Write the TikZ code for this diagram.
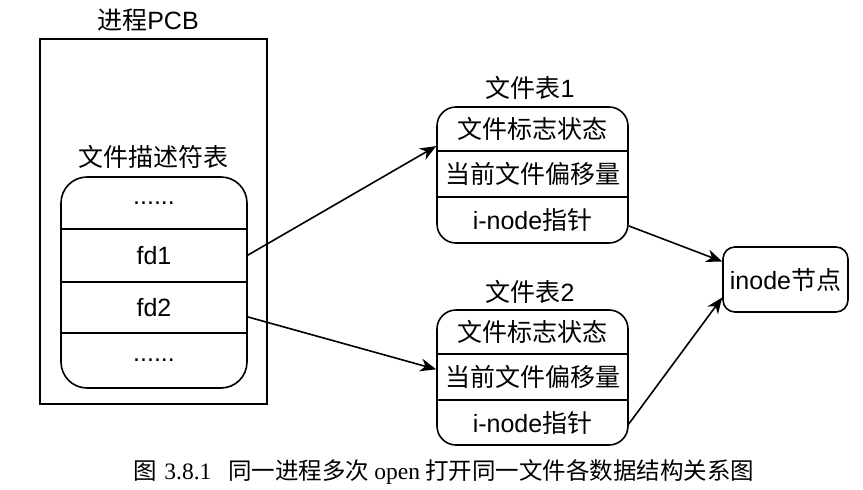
\documentclass[tikz,border=0pt]{standalone}
\usepackage{fontspec}
\setmainfont{Liberation Sans}
\newfontfamily\cjk{Noto Sans CJK SC}
\newfontfamily\capserif{Liberation Serif}
\usetikzlibrary{arrows.meta,calc}

\tikzset{
  box/.style={draw, line width=1.6pt, inner sep=0pt},
  rowcell/.style={inner sep=0pt, minimum width=#1, font=\fontsize{25}{28}\selectfont},
  label/.style={inner sep=0pt, font=\fontsize{25}{28}\selectfont},
  divider/.style={line width=1.6pt},
  link/.style={line width=1.6pt, -{Stealth[length=16pt,width=13pt,inset=5pt]}},
}

\begin{document}
\begin{tikzpicture}[x=1pt,y=-1pt]
\useasboundingbox (0,0) rectangle (863,490);

% process control block
\node[box, minimum width=227pt, minimum height=365pt] (pcb) at (153.5,221.5) {};
\node[label] (pcbtitle) at (148,20) {{\cjk 进程}PCB};

% file descriptor table
\node[label] (fdtitle) at (153,157) {\cjk 文件描述符表};
\node[box, rounded corners=26pt, minimum width=186pt, minimum height=211pt] (fdt) at (154,282.5) {};
\node[rowcell=186pt, minimum height=52pt] (fd0) at (154,203) {\raisebox{-3pt}{......}};
\node[rowcell=186pt, minimum height=53pt] (fd1) at (154,255.5) {fd1};
\node[rowcell=186pt, minimum height=51pt] (fd2) at (154,307.5) {fd2};
\node[rowcell=186pt, minimum height=55pt] (fd3) at (154,360.5) {......};
\draw[divider] (fd0.south west) -- (fd0.south east);
\draw[divider] (fd1.south west) -- (fd1.south east);
\draw[divider] (fd2.south west) -- (fd2.south east);

% file table 1
\node[label] (t1title) at (530,88) {{\cjk 文件表}1};
\node[box, rounded corners=19pt, minimum width=191pt, minimum height=136pt] (t1) at (532.5,175) {};
\node[rowcell=191pt, minimum height=44pt] (t1a) at (532.5,129) {\cjk 文件标志状态};
\node[rowcell=191pt, minimum height=46pt] (t1b) at (532.5,174) {\cjk 当前文件偏移量};
\node[rowcell=191pt, minimum height=46pt] (t1c) at (532.5,220) {i-node{\cjk 指针}};
\draw[divider] (t1a.south west) -- (t1a.south east);
\draw[divider] (t1b.south west) -- (t1b.south east);

% file table 2
\node[label] (t2title) at (530,292) {{\cjk 文件表}2};
\node[box, rounded corners=19pt, minimum width=191pt, minimum height=135pt] (t2) at (532.5,377.5) {};
\node[rowcell=191pt, minimum height=44pt] (t2a) at (532.5,332) {\cjk 文件标志状态};
\node[rowcell=191pt, minimum height=46pt] (t2b) at (532.5,377) {\cjk 当前文件偏移量};
\node[rowcell=191pt, minimum height=45pt] (t2c) at (532.5,422.5) {i-node{\cjk 指针}};
\draw[divider] (t2a.south west) -- (t2a.south east);
\draw[divider] (t2b.south west) -- (t2b.south east);

% inode
\node[box, rounded corners=12pt, minimum width=125pt, minimum height=65pt, font=\fontsize{25}{28}\selectfont] (inode) at (785.5,279.5) {inode{\cjk 节点}};

% connectors
\draw[link] (fd1.east) -- ($(t1.north west)!0.29!(t1.south west)$);
\draw[link] ($(fd2.north east)!0.68!(fd2.south east)$) -- ($(t2.north west)!0.44!(t2.south west)$);
\draw[link] ($(t1.north east)!0.87!(t1.south east)$) -- ($(inode.north west)!0.23!(inode.south west)$);
\draw[link] ($(t2.north east)!0.84!(t2.south east)$) -- ($(inode.north west)!0.77!(inode.south west)$);

% caption
\node[inner sep=0pt, font=\fontsize{23.5}{27}\selectfont] (caption) at (444,472)
  {{\cjk 图}\hspace{7pt}{\capserif 3.8.1}\hspace{17pt}{\cjk 同一进程多次}\hspace{5pt}{\capserif open}\hspace{5pt}{\cjk 打开同一文件各数据结构关系图}};
\end{tikzpicture}
\end{document}
